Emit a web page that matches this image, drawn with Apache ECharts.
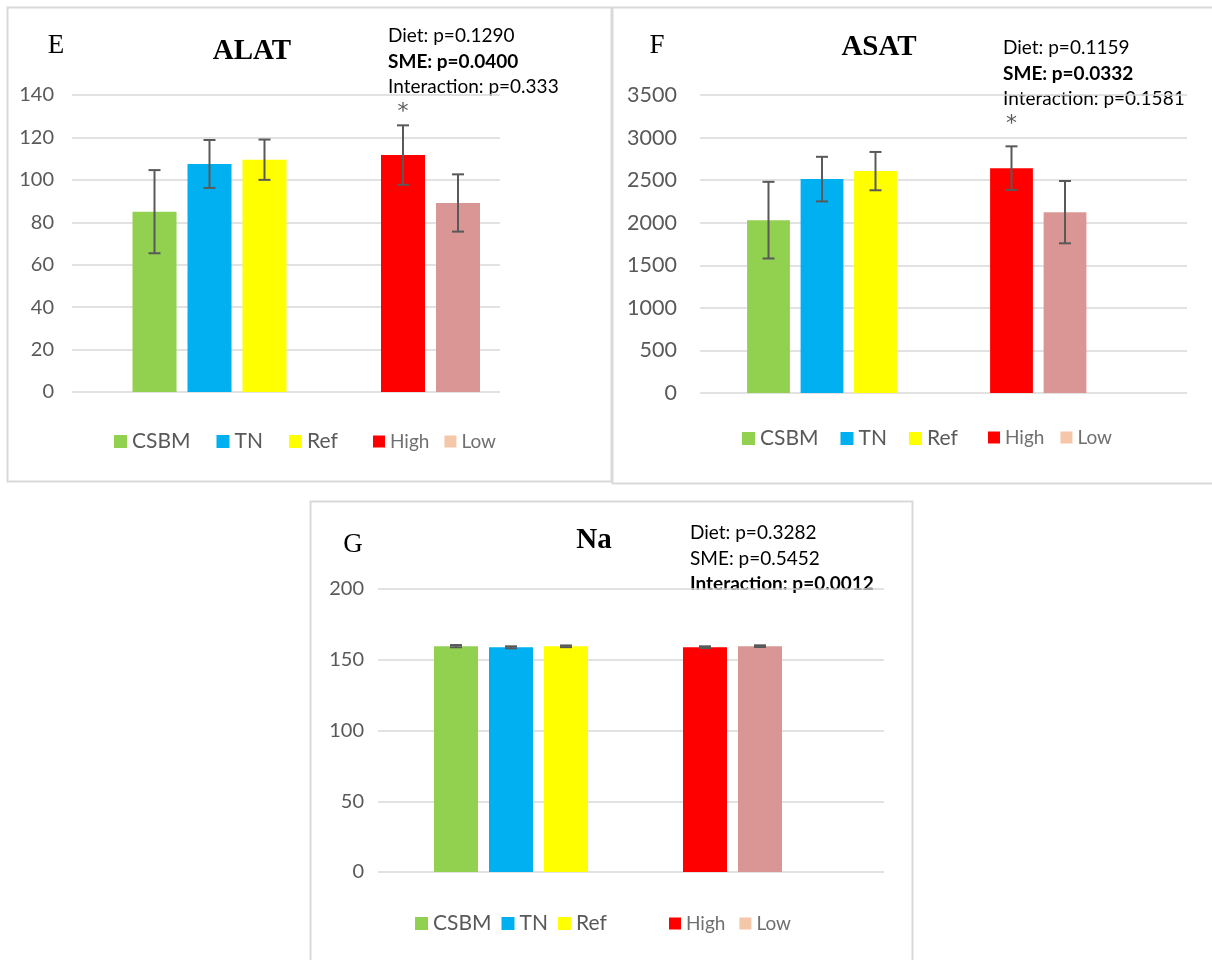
<!DOCTYPE html>
<html>
<head>
<meta charset="utf-8">
<script src="https://cdn.jsdelivr.net/npm/echarts@6/dist/echarts.min.js"></script>
<style>
  html, body { margin: 0; padding: 0; background: #ffffff; }
  #chart { width: 1212px; height: 960px; }
</style>
</head>
<body>
<div id="chart"></div>
<script>
// ---- data ----
const groups = ['CSBM', 'TN', 'Ref', 'High', 'Low'];
const dietGroups = ['CSBM', 'TN', 'Ref'];
const smeGroups = ['High', 'Low'];
const barColors = ['#92D050', '#00B0F0', '#FFFF00', '#FF0000', '#D99694'];
const legendColors = ['#92D050', '#00B0F0', '#FFFF00', '#FF0000', '#F4C7A8'];

// ALAT (panel E)
const alatMean = [85.0, 107.5, 109.5, 111.7, 89.1];
const alatErr = [19.6, 11.3, 9.5, 14.0, 13.5];
const alatStars = ['', '', '', '*', ''];
const alatStats = ['Diet: p=0.1290', 'SME: p=0.0400', 'Interaction: p=0.333'];
const alatStatsBold = [false, true, false];
const alatAxis = { min: 0, max: 140, interval: 20 };

// ASAT (panel F)
const asatMean = [2030, 2512, 2606, 2641, 2124];
const asatErr = [450, 262, 225, 256, 366];
const asatStars = ['', '', '', '*', ''];
const asatStats = ['Diet: p=0.1159', 'SME: p=0.0332', 'Interaction: p=0.1581'];
const asatStatsBold = [false, true, false];
const asatAxis = { min: 0, max: 3500, interval: 500 };

// Na (panel G)
const naMean = [159.6, 158.8, 159.5, 158.9, 159.6];
const naErr = [0.8, 0.7, 0.6, 0.6, 0.6];
const naStars = ['', '', '', '', ''];
const naStats = ['Diet: p=0.3282', 'SME: p=0.5452', 'Interaction: p=0.0012'];
const naStatsBold = [false, false, true];
const naAxis = { min: 0, max: 200, interval: 50 };

// ---- layout of the three panels (page pixels) ----
const FONT = 'Lato, "Open Sans", sans-serif';
const SERIF = '"Liberation Serif", "DejaVu Serif", serif';
const STAR_FONT = '22px "DejaVu Sans", sans-serif';
const panels = [
  {
    letter: 'E', title: 'ALAT', mean: alatMean, err: alatErr, stars: alatStars,
    stats: alatStats, bold: alatStatsBold, axis: alatAxis,
    box: [7.5, 7.5, 604, 474],
    plot: { left: 72, right: 500, top: 95, bottom: 392 },
    diet: [127, 292], sme: [375.5, 485.5],
    labelSize: 20, labelMargin: 18, starGap: 13,
    letterPos: [56, 46], titlePos: [252, 52], statsPos: [388, 36],
    legendA: { left: 114, top: 431, gap: 26 }, legendB: { left: 373, top: 432, gap: 15 }
  },
  {
    letter: 'F', title: 'ASAT', mean: asatMean, err: asatErr, stars: asatStars,
    stats: asatStats, bold: asatStatsBold, axis: asatAxis,
    box: [612.5, 7.5, 612, 476],
    plot: { left: 700, right: 1187, top: 95, bottom: 393 },
    diet: [741.75, 902.25], sme: [984.75, 1091.75],
    labelSize: 21.5, labelMargin: 23, starGap: 22,
    letterPos: [657, 46], titlePos: [879, 48], statsPos: [1003, 48],
    legendA: { left: 742, top: 428, gap: 22 }, legendB: { left: 988, top: 428, gap: 16 }
  },
  {
    letter: 'G', title: 'Na', mean: naMean, err: naErr, stars: naStars,
    stats: naStats, bold: naStatsBold, axis: naAxis,
    box: [310.5, 501.5, 602, 470],
    plot: { left: 378, right: 884, top: 589, bottom: 872 },
    diet: [428.5, 593.5], sme: [677.5, 787.5],
    labelSize: 20, labelMargin: 14, starGap: 13,
    letterPos: [353, 545], titlePos: [594, 541], statsPos: [690, 533],
    legendA: { left: 415, top: 913, gap: 10 }, legendB: { left: 669, top: 914, gap: 14 }
  }
];

const grid = [], xAxis = [], yAxis = [], series = [], legend = [], graphic = [];

panels.forEach((p, pi) => {
  const h = p.plot.bottom - p.plot.top;
  const baseIdx = grid.length;
  // base grid carries the value axis and its gridlines
  grid.push({ left: p.plot.left, top: p.plot.top, width: p.plot.right - p.plot.left, height: h });
  xAxis.push({ gridIndex: baseIdx, type: 'category', data: [''], show: false });
  yAxis.push({
    gridIndex: baseIdx, type: 'value', min: p.axis.min, max: p.axis.max, interval: p.axis.interval,
    axisLine: { show: false }, axisTick: { show: false },
    axisLabel: {
      color: '#595959', fontSize: p.labelSize, fontFamily: FONT, margin: p.labelMargin,
      formatter: (v) => String(v)
    },
    splitLine: { lineStyle: { color: '#d9d9d9', width: 1.5 } }
  });

  // one grid per factor group (diet / SME), sharing the same value scale
  [[dietGroups, p.diet, 0], [smeGroups, p.sme, 3]].forEach(([cats, span, offset]) => {
    const gi = grid.length;
    grid.push({ left: span[0], top: p.plot.top, width: span[1] - span[0], height: h });
    xAxis.push({ gridIndex: gi, type: 'category', data: cats, show: false });
    yAxis.push({ gridIndex: gi, type: 'value', min: p.axis.min, max: p.axis.max, interval: p.axis.interval, show: false });

    cats.forEach((name, j) => {
      const k = offset + j;
      series.push({
        name: name, type: 'bar', xAxisIndex: gi, yAxisIndex: gi,
        stack: 'p' + pi + '_' + offset, barCategoryGap: '20%',
        itemStyle: { color: barColors[k] },
        data: cats.map((c, jj) => (jj === j ? p.mean[k] : '-')),
        z: 2, animation: false
      });
    });

    // error bars (mean ± error) with optional significance mark
    series.push({
      type: 'custom', xAxisIndex: gi, yAxisIndex: gi, z: 5, animation: false, silent: true,
      data: cats.map((c, j) => [j, p.mean[offset + j], p.err[offset + j]]),
      renderItem: (params, api) => {
        const x = api.value(0), m = api.value(1), e = api.value(2);
        const top = api.coord([x, m + e]);
        const bot = api.coord([x, m - e]);
        const cx = top[0], cap = 6;
        const style = { stroke: '#595959', lineWidth: 2 };
        const children = [
          { type: 'line', shape: { x1: cx, y1: top[1], x2: cx, y2: bot[1] }, style },
          { type: 'line', shape: { x1: cx - cap, y1: top[1], x2: cx + cap, y2: top[1] }, style },
          { type: 'line', shape: { x1: cx - cap, y1: bot[1], x2: cx + cap, y2: bot[1] }, style }
        ];
        const star = p.stars[offset + params.dataIndex];
        if (star) {
          children.push({
            type: 'text', x: cx, y: top[1] - p.starGap,
            style: { text: star, fill: '#595959', font: STAR_FONT, textAlign: 'center', textVerticalAlign: 'middle' }
          });
        }
        return { type: 'group', children };
      }
    });
  });

  // legends
  const legendText = { color: '#595959', fontSize: 21, fontFamily: FONT };
  legend.push({
    left: p.legendA.left, top: p.legendA.top, padding: 0, itemGap: p.legendA.gap, itemWidth: 13, itemHeight: 13,
    icon: 'rect', selectedMode: false, textStyle: legendText,
    data: dietGroups.map((n, j) => ({ name: n, itemStyle: { color: legendColors[j] } }))
  });
  legend.push({
    left: p.legendB.left, top: p.legendB.top, padding: 0, itemGap: p.legendB.gap, itemWidth: 12, itemHeight: 12,
    icon: 'rect', selectedMode: false, textStyle: { color: '#707070', fontSize: 19, fontFamily: FONT },
    data: smeGroups.map((n, j) => ({ name: n, itemStyle: { color: legendColors[3 + j] } }))
  });

  // panel frame
  graphic.push({
    type: 'rect', shape: { x: p.box[0], y: p.box[1], width: p.box[2], height: p.box[3] },
    style: { fill: 'none', stroke: '#d9d9d9', lineWidth: 2 }, silent: true, z: 0
  });
  // panel letter and title
  graphic.push({
    type: 'text', x: p.letterPos[0], y: p.letterPos[1],
    style: { text: p.letter, font: '27px ' + SERIF, fill: '#000', textAlign: 'center', textVerticalAlign: 'middle' }
  });
  graphic.push({
    type: 'text', x: p.titlePos[0], y: p.titlePos[1],
    style: { text: p.title, font: 'bold 29px ' + SERIF, fill: '#000', textAlign: 'center', textVerticalAlign: 'middle' }
  });
  // statistics block
  p.stats.forEach((s, i) => {
    graphic.push({
      type: 'text', x: p.statsPos[0], y: p.statsPos[1] + i * 25.5,
      style: { text: s, font: (p.bold[i] ? 'bold ' : '') + '19px ' + FONT, fill: '#000', textAlign: 'left', textVerticalAlign: 'middle' }
    });
  });
});

const chart = echarts.init(document.getElementById('chart'), null, { renderer: 'canvas' });
chart.setOption({
  backgroundColor: '#ffffff',
  animation: false,
  grid, xAxis, yAxis, series, legend, graphic
});
</script>
</body>
</html>
